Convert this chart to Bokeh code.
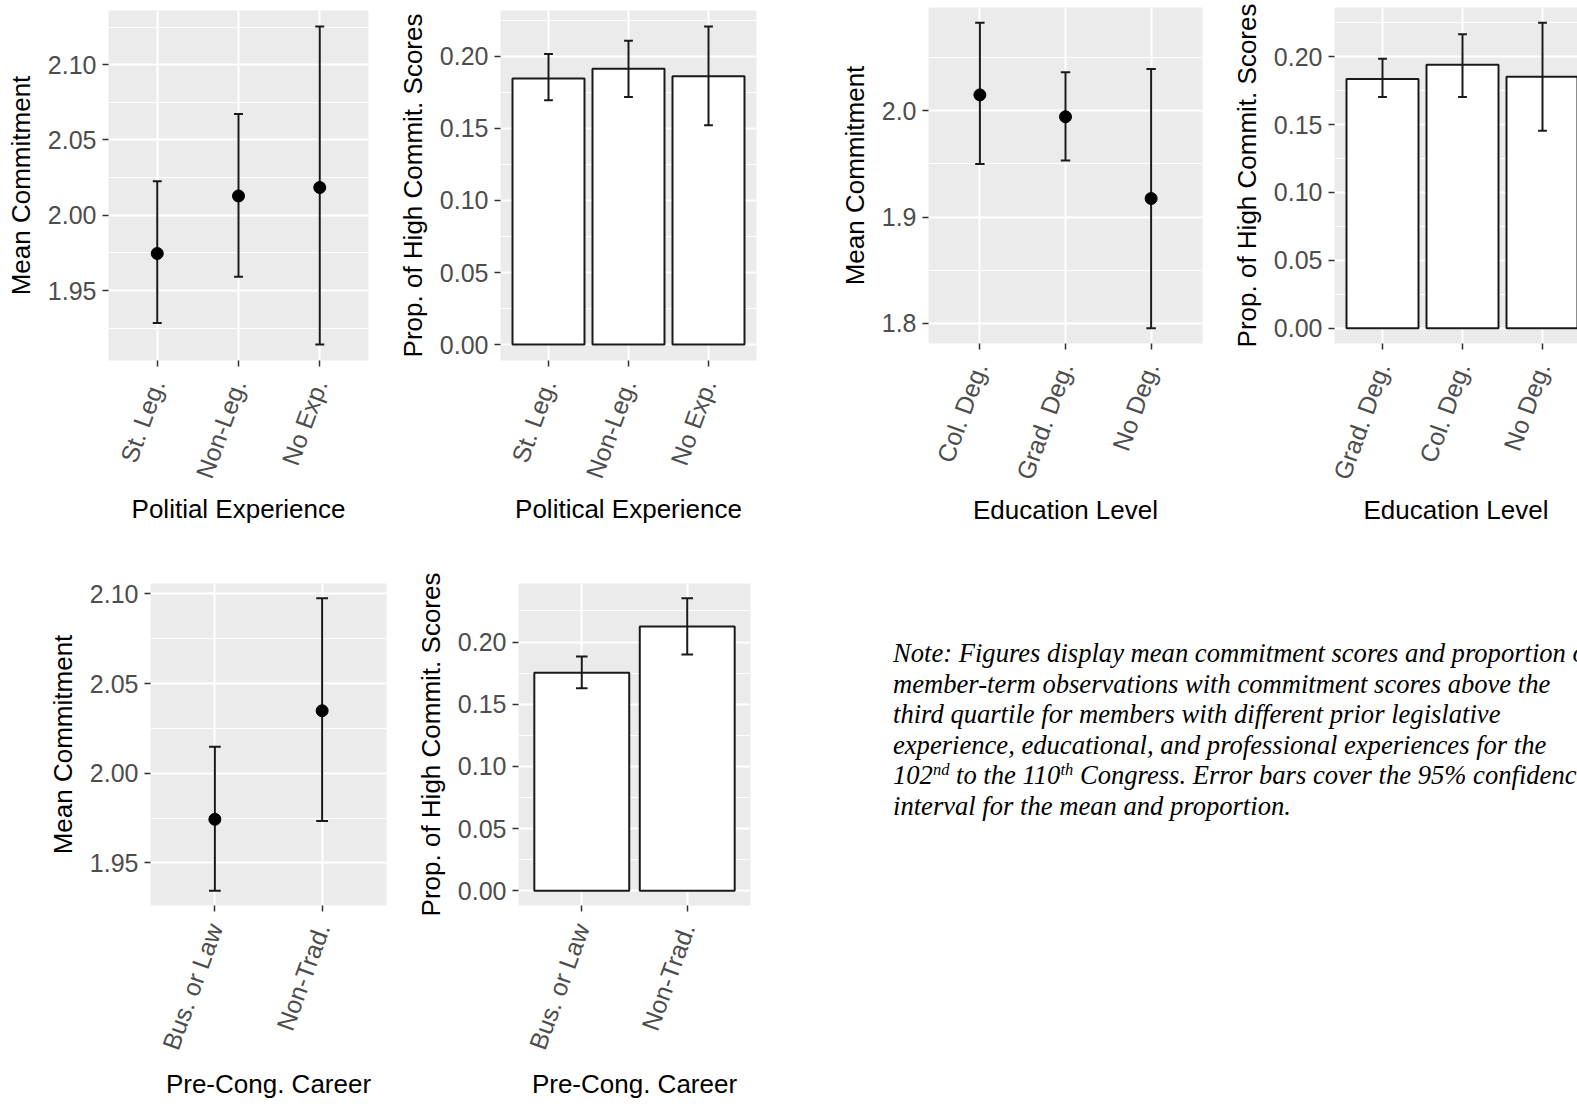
import math
from bokeh.plotting import figure
from bokeh.models import Range1d, FixedTicker, NumeralTickFormatter, Div
from bokeh.layouts import row, column
from bokeh.embed import file_html
from bokeh.resources import INLINE

# ---------------- data ----------------
pol_cats = ["St. Leg.", "Non-Leg.", "No Exp."]
pol_mean = [1.9746, 2.0128, 2.0184]
pol_mean_lo = [1.9285, 1.9591, 1.9141]
pol_mean_hi = [2.0226, 2.0673, 2.1254]
pol_prop = [0.1845, 0.1914, 0.1861]
pol_prop_lo = [0.1694, 0.1718, 0.1521]
pol_prop_hi = [0.2016, 0.2108, 0.2207]

edu_mean_cats = ["Col. Deg.", "Grad. Deg.", "No Deg."]
edu_mean = [2.015, 1.9944, 1.9174]
edu_mean_lo = [1.950, 1.9533, 1.7953]
edu_mean_hi = [2.0829, 2.0363, 2.0394]
edu_prop_cats = ["Grad. Deg.", "Col. Deg.", "No Deg."]
edu_prop = [0.1835, 0.1940, 0.1852]
edu_prop_lo = [0.1703, 0.1703, 0.1454]
edu_prop_hi = [0.1985, 0.2164, 0.2249]

car_cats = ["Bus. or Law", "Non-Trad."]
car_mean = [1.9743, 2.0348]
car_mean_lo = [1.9344, 1.9734]
car_mean_hi = [2.0147, 2.0976]
car_prop = [0.1753, 0.2126]
car_prop_lo = [0.1629, 0.1900]
car_prop_hi = [0.1884, 0.2353]

# tick values
mean_ticks_a = [1.95, 2.00, 2.05, 2.10]
mean_minor_a = [1.925, 1.975, 2.025, 2.075, 2.125]
mean_ticks_b = [1.8, 1.9, 2.0]
mean_minor_b = [1.75, 1.85, 1.95, 2.05]
prop_ticks = [0.00, 0.05, 0.10, 0.15, 0.20]
prop_minor = [0.025, 0.075, 0.125, 0.175, 0.225]

SUP = '<span style="font-size:0.62em;position:relative;top:-0.55em;line-height:0;">{}</span>'
note_lines = [
    "Note: Figures display mean commitment scores and proportion of",
    "member-term observations with commitment scores above the",
    "third quartile for members with different prior legislative",
    "experience, educational, and professional experiences for the",
    "102" + SUP.format("nd") + " to the 110" + SUP.format("th")
    + " Congress. Error bars cover the 95% confidence",
    "interval for the mean and proportion.",
]
page_number = "90"

FONT = "Liberation Sans"


def make_panel(kind, cats, vals, lo, hi, yticks, yminor, yfmt, xtitle, ytitle,
               width, height, bl, br, bt, bb, visible_frac=1.0,
               lab_stand=14, title_stand=4):
    n = len(cats)
    xs = list(range(1, n + 1))
    x0, x1 = 0.4, n + 0.6
    x1 = x0 + (x1 - x0) * visible_frac
    if kind == "bar":
        ylo, yhi = 0.0, max(hi)
    else:
        ylo, yhi = min(lo), max(hi)
    pad = 0.05 * (yhi - ylo)
    p = figure(width=width, height=height,
               x_range=Range1d(x0, x1), y_range=Range1d(ylo - pad, yhi + pad),
               output_backend="svg", toolbar_location=None,
               min_border_left=bl, min_border_right=br,
               min_border_top=bt, min_border_bottom=bb)
    p.background_fill_color = "#EBEBEB"
    p.border_fill_color = "white"
    p.outline_line_color = None

    p.xaxis.ticker = FixedTicker(ticks=xs)
    p.xaxis.major_label_overrides = {x: c for x, c in zip(xs, cats)}
    p.yaxis.ticker = FixedTicker(ticks=yticks, minor_ticks=yminor)
    p.yaxis.formatter = NumeralTickFormatter(format=yfmt)
    p.xaxis.axis_label = xtitle
    p.yaxis.axis_label = ytitle

    for ax in (p.xaxis[0], p.yaxis[0]):
        ax.axis_line_color = None
        ax.major_tick_line_color = "#333333"
        ax.major_tick_line_width = 1.5
        ax.major_tick_out = 6
        ax.major_tick_in = 0
        ax.minor_tick_line_color = None
        ax.major_label_text_font = FONT
        ax.major_label_text_font_size = "25px"
        ax.major_label_text_color = "#4D4D4D"
        ax.axis_label_text_font = FONT
        ax.axis_label_text_font_size = "26px"
        ax.axis_label_text_font_style = "normal"
        ax.axis_label_text_color = "black"
    p.yaxis.major_label_standoff = 6
    p.xaxis.major_label_standoff = lab_stand
    p.xaxis.major_label_orientation = math.radians(70)
    p.xaxis.axis_label_standoff = title_stand
    p.yaxis.axis_label_standoff = 9

    p.xgrid.grid_line_color = "white"
    p.xgrid.grid_line_width = 2
    p.ygrid.grid_line_color = "white"
    p.ygrid.grid_line_width = 2
    p.ygrid.minor_grid_line_color = "white"
    p.ygrid.minor_grid_line_width = 1

    if kind == "bar":
        p.vbar(x=xs, top=vals, bottom=0, width=0.9, fill_color="white",
               line_color="#1A1A1A", line_width=2)
    hw = 0.055
    p.segment(x0=xs, y0=lo, x1=xs, y1=hi, line_color="#1A1A1A", line_width=2)
    p.segment(x0=[x - hw for x in xs], y0=hi, x1=[x + hw for x in xs], y1=hi,
              line_color="#1A1A1A", line_width=2)
    p.segment(x0=[x - hw for x in xs], y0=lo, x1=[x + hw for x in xs], y1=lo,
              line_color="#1A1A1A", line_width=2)
    if kind == "point":
        p.scatter(x=xs, y=vals, size=12, color="black")
    return p


TOP_H = 556
BOT_H = 548

p1 = make_panel("point", pol_cats, pol_mean, pol_mean_lo, pol_mean_hi,
                mean_ticks_a, mean_minor_a, "0.00", "Politial Experience", "Mean Commitment",
                384, TOP_H, 108, 16, 10, TOP_H - 360)
p2 = make_panel("bar", pol_cats, pol_prop, pol_prop_lo, pol_prop_hi,
                prop_ticks, prop_minor, "0.00", "Political Experience", "Prop. of High Commit. Scores",
                386, TOP_H, 116, 14, 10, TOP_H - 360)
p3 = make_panel("point", edu_mean_cats, edu_mean, edu_mean_lo, edu_mean_hi,
                mean_ticks_b, mean_minor_b, "0.0", "Education Level", "Mean Commitment",
                444, TOP_H, 158, 12, 7, TOP_H - 343)
p4 = make_panel("bar", edu_prop_cats, edu_prop, edu_prop_lo, edu_prop_hi,
                prop_ticks, prop_minor, "0.00", "Education Level", "Prop. of High Commit. Scores",
                363, TOP_H, 120, 0, 7, TOP_H - 343, visible_frac=243 / 256)
p5 = make_panel("point", car_cats, car_mean, car_mean_lo, car_mean_hi,
                mean_ticks_a, mean_minor_a, "0.00", "Pre-Cong. Career", "Mean Commitment",
                392, BOT_H, 150, 6, 583 - TOP_H, TOP_H + BOT_H - 905, lab_stand=13, title_stand=8)
p6 = make_panel("bar", car_cats, car_prop, car_prop_lo, car_prop_hi,
                prop_ticks, prop_minor, "0.00", "Pre-Cong. Career", "Prop. of High Commit. Scores",
                378, BOT_H, 126, 20, 583 - TOP_H, TOP_H + BOT_H - 905, lab_stand=13, title_stand=8)

NOTE_W = 1577 - 392 - 378
note_html = (
    f'<div style="position:relative;width:{NOTE_W}px;height:{BOT_H}px;overflow:hidden;">'
    '<div style="position:absolute;left:118px;top:77px;white-space:nowrap;'
    "font-family:'Liberation Serif';font-style:italic;font-size:26.6px;"
    'line-height:30.6px;color:#000;">'
    + "<br>".join(note_lines) +
    '</div>'
    '<div style="position:absolute;left:68px;top:537px;'
    "font-family:'Liberation Serif';font-size:29px;line-height:30px;color:#000;\">"
    + page_number +
    '</div></div>'
)
note = Div(text=note_html, width=NOTE_W, height=BOT_H)

layout = column(
    row(column(p1), column(p2), column(p3), column(p4)),
    row(column(p5), column(p6), note),
)

open("out.html", "w").write(file_html(layout, INLINE))
